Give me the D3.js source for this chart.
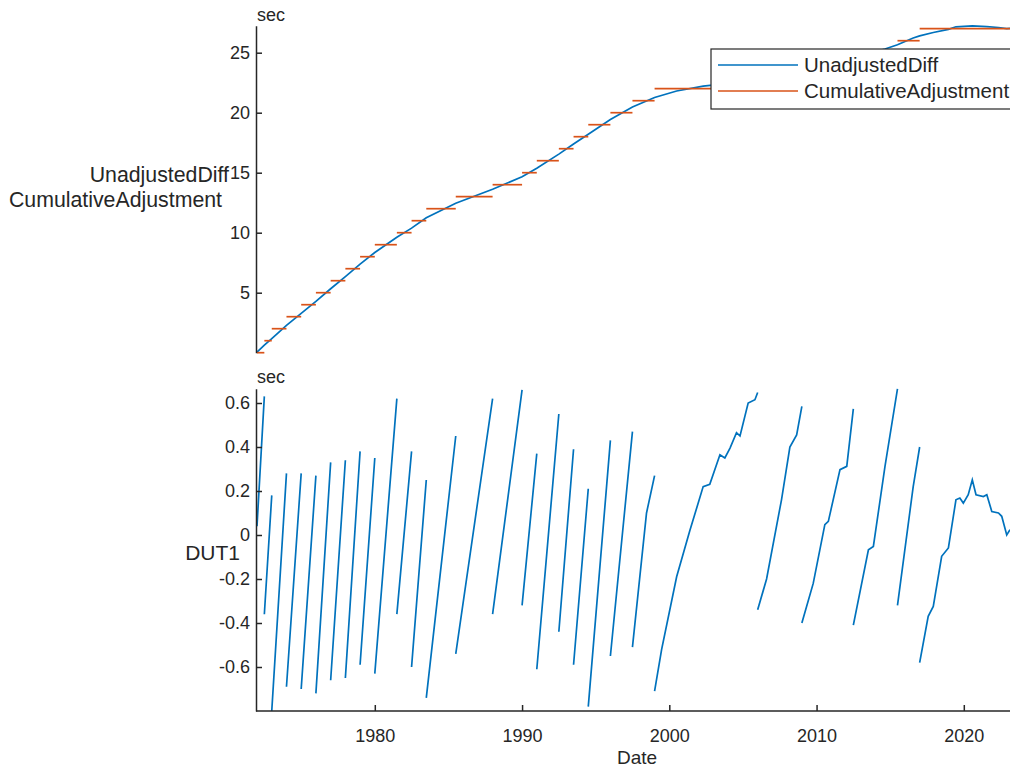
<!DOCTYPE html>
<html><head><meta charset="utf-8">
<script src="https://cdn.jsdelivr.net/npm/d3@7"></script>
<style>
body{margin:0;background:#fff}
svg{display:block}
text{font-family:"Liberation Sans",Arial,Helvetica,sans-serif;fill:#262626}
</style>
</head><body>
<svg id="chart" width="1010" height="768"></svg>
<script>
// ---- data ----
const leapDates = ["1972-01-01","1972-07-01","1973-01-01","1974-01-01","1975-01-01","1976-01-01","1977-01-01",
  "1978-01-01","1979-01-01","1980-01-01","1981-07-01","1982-07-01","1983-07-01","1985-07-01","1988-01-01",
  "1990-01-01","1991-01-01","1992-07-01","1993-07-01","1994-07-01","1996-01-01","1997-07-01","1999-01-01",
  "2006-01-01","2009-01-01","2012-07-01","2015-07-01","2017-01-01","2023-02-20"];
const cumulativeAdjustment = [0,1,2,3,4,5,6,7,8,9,10,11,12,13,14,15,16,17,18,19,20,21,22,23,24,25,26,27];

const unadjDates = ["1972-01-01","1972-07-01","1973-01-01","1974-01-01","1975-01-01","1976-01-01","1977-01-01",
  "1978-01-01","1979-01-01","1980-01-01","1981-07-01","1982-07-01","1983-07-01","1985-07-01","1988-01-01",
  "1990-01-01","1991-01-01","1992-07-01","1993-07-01","1994-07-01","1996-01-01","1997-07-01","1999-01-01",
  "2000-07-01","2002-04-20","2003-06-10","2004-07-25","2005-05-10","2006-01-01","2007-08-15","2009-01-01",
  "2010-07-25","2011-08-05","2012-07-01","2013-07-10","2014-08-25","2015-07-01","2016-07-25","2017-01-01",
  "2017-12-05","2018-12-15","2019-06-20","2020-07-30","2021-07-25","2022-05-10","2022-12-01","2023-02-20"];
const unadjValues = [0.04,0.63,1.18,2.28,3.28,4.27,5.33,6.34,7.38,8.35,9.62,10.38,11.25,12.45,13.62,
  14.66,15.37,16.55,17.39,18.21,19.43,20.47,21.27,
  21.81,22.22,22.36,22.46,22.60,22.65,23.16,23.59,
  24.05,24.30,24.57,24.93,25.31,25.66,26.22,26.40,
  26.68,26.94,27.16,27.24,27.18,27.10,27.00,27.02];

// DUT1: null marks a break (leap second)
const dut1Dates = [
  "1972-01-01","1972-07-01",null,
  "1972-07-01","1973-01-01",null,
  "1973-01-01","1974-01-01",null,
  "1974-01-01","1975-01-01",null,
  "1975-01-01","1976-01-01",null,
  "1976-01-01","1977-01-01",null,
  "1977-01-01","1978-01-01",null,
  "1978-01-01","1979-01-01",null,
  "1979-01-01","1980-01-01",null,
  "1980-01-01","1981-07-01",null,
  "1981-07-01","1982-07-01",null,
  "1982-07-01","1983-07-01",null,
  "1983-07-01","1985-07-01",null,
  "1985-07-01","1988-01-01",null,
  "1988-01-01","1990-01-01",null,
  "1990-01-01","1991-01-01",null,
  "1991-01-01","1992-07-01",null,
  "1992-07-01","1993-07-01",null,
  "1993-07-01","1994-07-01",null,
  "1994-07-01","1996-01-01",null,
  "1996-01-01","1997-07-01",null,
  "1997-07-01","1998-06-15","1999-01-01",null,
  "1999-01-01","1999-06-25","2000-07-01","2001-05-25","2002-04-20","2002-10-01","2003-06-10","2003-10-10",
  "2004-02-15","2004-07-25","2004-10-20","2005-05-10","2005-10-25","2006-01-01",null,
  "2006-01-01","2006-08-10","2007-08-15","2008-03-10","2008-08-25","2009-01-01",null,
  "2009-01-01","2009-10-10","2010-07-25","2010-10-20","2011-08-05","2012-01-20","2012-07-01",null,
  "2012-07-01","2013-07-10","2013-11-10","2014-08-25","2015-07-01",null,
  "2015-07-01","2016-07-25","2017-01-01",null,
  "2017-01-01","2017-08-01","2017-12-05","2018-07-01","2018-12-15","2019-06-20","2019-09-25","2019-12-20",
  "2020-04-20","2020-07-30","2020-10-30","2021-05-01","2021-07-25","2021-11-25","2022-05-10","2022-07-30",
  "2022-12-01","2023-02-20"];
const dut1Values = [
  0.04,0.63,null,
  -0.36,0.18,null,
  -0.80,0.28,null,
  -0.69,0.28,null,
  -0.70,0.27,null,
  -0.72,0.33,null,
  -0.66,0.34,null,
  -0.65,0.38,null,
  -0.59,0.35,null,
  -0.63,0.62,null,
  -0.36,0.38,null,
  -0.60,0.25,null,
  -0.74,0.45,null,
  -0.54,0.62,null,
  -0.36,0.66,null,
  -0.32,0.37,null,
  -0.61,0.55,null,
  -0.44,0.39,null,
  -0.59,0.21,null,
  -0.78,0.43,null,
  -0.55,0.47,null,
  -0.51,0.10,0.27,null,
  -0.71,-0.52,-0.19,0.02,0.22,0.23,0.365,0.35,
  0.395,0.465,0.45,0.60,0.615,0.648,null,
  -0.34,-0.20,0.16,0.40,0.455,0.585,null,
  -0.40,-0.22,0.047,0.062,0.297,0.312,0.573,null,
  -0.41,-0.067,-0.052,0.312,0.664,null,
  -0.32,0.22,0.40,null,
  -0.58,-0.37,-0.325,-0.097,-0.059,0.16,0.168,0.145,
  0.183,0.251,0.183,0.175,0.183,0.107,0.10,0.085,
  0.0,0.024];

const topTicks = [5,10,15,20,25];
const bottomTicks = [-0.6,-0.4,-0.2,0,0.2,0.4,0.6];
const xTickYears = ["1980","1990","2000","2010","2020"];
const seriesNames = ["UnadjustedDiff","CumulativeAdjustment"];
const colors = ["#0072BD","#D95319"];

// ---- drawing ----
const parse = d3.timeParse("%Y-%m-%d");
const svg = d3.select("#chart");
const axisColor = "#262626";

const x = d3.scaleTime()
  .domain([parse("1972-01-01"), parse("2023-02-20")])
  .range([257, 1010]);
const yTop = d3.scaleLinear().domain([0, 27.25]).range([352.7, 25.7]);
const yBot = d3.scaleLinear().domain([-0.80, 0.665]).range([711, 388.7]);

// top panel: unadjusted diff
const unadj = unadjDates.map((d,i)=>({date:parse(d), v:unadjValues[i]}));
svg.append("path").datum(unadj)
  .attr("fill","none").attr("stroke",colors[0]).attr("stroke-width",1.7)
  .attr("d", d3.line().x(d=>x(d.date)).y(d=>yTop(d.v)));

// cumulative adjustment as flat pieces
const cum = cumulativeAdjustment.map((v,i)=>({v, from:parse(leapDates[i]), to:parse(leapDates[i+1])}));
svg.append("g").selectAll("line").data(cum).join("line")
  .attr("x1",d=>x(d.from)).attr("x2",d=>x(d.to))
  .attr("y1",d=>yTop(d.v)).attr("y2",d=>yTop(d.v))
  .attr("stroke",colors[1]).attr("stroke-width",1.7);

// bottom panel: DUT1
const dut = dut1Dates.map((d,i)=>({date: d?parse(d):null, v:dut1Values[i]}));
svg.append("path").datum(dut)
  .attr("fill","none").attr("stroke",colors[0]).attr("stroke-width",1.7)
  .attr("d", d3.line().defined(d=>d.date!==null && d.v!==null).x(d=>x(d.date)).y(d=>yBot(d.v)));

// axes
function styleAxis(g){
  g.select(".domain").attr("stroke",axisColor).attr("stroke-width",1.5);
  g.selectAll(".tick line").attr("stroke",axisColor).attr("stroke-width",1.5);
  g.selectAll(".tick text").attr("fill",axisColor).style("font-family",'"Liberation Sans",Arial,sans-serif');
}
svg.append("g").attr("transform","translate(256,0)")
  .call(d3.axisLeft(yTop).tickValues(topTicks).tickSizeInner(-6).tickSizeOuter(0).tickPadding(6).tickFormat(d3.format("d")))
  .attr("font-size",18).call(styleAxis);
svg.append("g").attr("transform","translate(256,0)")
  .call(d3.axisLeft(yBot).tickValues(bottomTicks).tickSizeInner(-6).tickSizeOuter(0).tickPadding(6)
    .tickFormat(d=> d===0 ? "0" : d3.format(".1f")(d).replace("−","-")))
  .attr("font-size",18).call(styleAxis);
const gX = svg.append("g").attr("transform","translate(0,711)")
  .call(d3.axisBottom(x).tickValues(xTickYears.map(y=>parse(y+"-01-01"))).tickSizeInner(-6).tickSizeOuter(0).tickPadding(18)
    .tickFormat(d3.timeFormat("%Y")))
  .attr("font-size",18).call(styleAxis);
gX.select(".domain").attr("d","M256,0H1010");

// units and labels
svg.append("text").attr("x",257).attr("y",20.5).attr("font-size",18).text("sec");
svg.append("text").attr("x",257).attr("y",382.5).attr("font-size",18).text("sec");
svg.append("text").attr("x",229).attr("y",182).attr("text-anchor","end").attr("font-size",21.3).text(seriesNames[0]);
svg.append("text").attr("x",222).attr("y",207).attr("text-anchor","end").attr("font-size",21.3).text(seriesNames[1]);
svg.append("text").attr("x",240).attr("y",560).attr("text-anchor","end").attr("font-size",21).text("DUT1");
svg.append("text").attr("x",637).attr("y",763.5).attr("text-anchor","middle").attr("font-size",19).text("Date");

// legend
const leg = svg.append("g");
leg.append("rect").attr("x",711).attr("y",49).attr("width",400).attr("height",60)
  .attr("fill","#fff").attr("stroke",axisColor).attr("stroke-width",1.2);
seriesNames.forEach((name,i)=>{
  const yy = 65 + i*26;
  leg.append("line").attr("x1",718).attr("x2",798).attr("y1",yy).attr("y2",yy)
    .attr("stroke",colors[i]).attr("stroke-width",1.7);
  leg.append("text").attr("x",804).attr("y",yy+7).attr("font-size",20.5).text(name);
});
</script>
</body></html>
